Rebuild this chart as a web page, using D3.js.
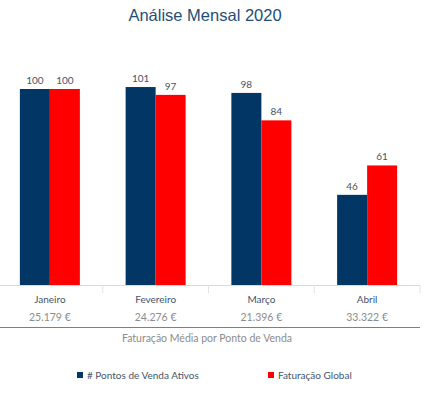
<!DOCTYPE html>
<html>
<head>
<meta charset="utf-8">
<script src="https://cdn.jsdelivr.net/npm/d3@7"></script>
<style>
  body { margin: 0; background: #fff; }
  svg { display: block; }
</style>
</head>
<body>
<svg id="grafico" width="434" height="395"></svg>
<script>
const meses = ["Janeiro", "Fevereiro", "Março", "Abril"];
const pontosVenda = [100, 101, 98, 46];
const faturacaoGlobal = [100, 97, 84, 61];
const faturacaoMedia = ["25.179 €", "24.276 €", "21.396 €", "33.322 €"];
const series = ["# Pontos de Venda Ativos", "Faturação Global"];
const cores = ["#023765", "#ff0000"];

const data = meses.map((m, i) => ({ mes: m, valores: [pontosVenda[i], faturacaoGlobal[i]], media: faturacaoMedia[i] }));

const svg = d3.select("#grafico");
const baseY = 285;
const labelFont = "Lato, 'Open Sans', sans-serif";

const xScale = d3.scaleBand()
    .domain(meses)
    .range([-3, 420])
    .padding(0);

const xSub = d3.scaleBand()
    .domain(series)
    .range([xScale.bandwidth() / 2 - 30, xScale.bandwidth() / 2 + 30]);

const yScale = d3.scaleLinear()
    .domain([0, 100])
    .range([baseY, 89]);

// titulo
svg.append("text")
    .attr("x", 205).attr("y", 21)
    .attr("text-anchor", "middle")
    .attr("font-family", "'Liberation Sans', Arial, sans-serif")
    .attr("font-size", 16.5)
    .attr("fill", "#1f4e79")
    .text("Análise Mensal 2020");

// barras
const grupos = svg.selectAll("g.mes")
    .data(data)
    .enter()
    .append("g")
    .attr("class", "mes")
    .attr("transform", d => `translate(${xScale(d.mes)},0)`);

grupos.selectAll("rect")
    .data(d => d.valores.map((v, i) => ({ serie: series[i], valor: v, cor: cores[i] })))
    .enter()
    .append("rect")
    .attr("x", d => xSub(d.serie))
    .attr("y", d => yScale(d.valor))
    .attr("width", xSub.bandwidth())
    .attr("height", d => baseY - yScale(d.valor))
    .attr("fill", d => d.cor);

grupos.selectAll("text.valor")
    .data(d => d.valores.map((v, i) => ({ serie: series[i], valor: v })))
    .enter()
    .append("text")
    .attr("class", "valor")
    .attr("x", d => xSub(d.serie) + xSub.bandwidth() / 2)
    .attr("y", d => yScale(d.valor) - 5)
    .attr("text-anchor", "middle")
    .attr("font-family", labelFont)
    .attr("font-size", 10)
    .attr("fill", "#44546a")
    .text(d => d.valor);

// eixo x com tabela
svg.append("line")
    .attr("x1", 0).attr("x2", 420)
    .attr("y1", baseY + 0.5).attr("y2", baseY + 0.5)
    .attr("stroke", "#d9d9d9");

svg.selectAll("line.sep")
    .data(meses)
    .enter()
    .append("line")
    .attr("class", "sep")
    .attr("x1", d => xScale(d) + xScale.bandwidth())
    .attr("x2", d => xScale(d) + xScale.bandwidth())
    .attr("y1", baseY).attr("y2", baseY + 8)
    .attr("stroke", "#e3e3e3");

grupos.append("text")
    .attr("x", xScale.bandwidth() / 2)
    .attr("y", 303)
    .attr("text-anchor", "middle")
    .attr("font-family", labelFont)
    .attr("font-size", 10)
    .attr("fill", "#44546a")
    .text(d => d.mes);

grupos.append("text")
    .attr("x", xScale.bandwidth() / 2)
    .attr("y", 321)
    .attr("text-anchor", "middle")
    .attr("font-family", labelFont)
    .attr("font-size", 10.5)
    .attr("fill", "#8c8c8c")
    .text(d => d.media);

svg.append("line")
    .attr("x1", 0).attr("x2", 420)
    .attr("y1", 327.5).attr("y2", 327.5)
    .attr("stroke", "#7f7f7f")
    .attr("stroke-width", 1);

svg.append("text")
    .attr("x", 207).attr("y", 342)
    .attr("text-anchor", "middle")
    .attr("font-family", labelFont)
    .attr("font-size", 10.5)
    .attr("fill", "#8c8c8c")
    .text("Faturação Média por Ponto de Venda");

// legenda
const legendaX = [77, 268];
const legenda = svg.selectAll("g.legenda")
    .data(series)
    .enter()
    .append("g")
    .attr("class", "legenda")
    .attr("transform", (d, i) => `translate(${legendaX[i]},372)`);

legenda.append("rect")
    .attr("width", 6).attr("height", 6)
    .attr("fill", (d, i) => cores[i]);

legenda.append("text")
    .attr("x", 10).attr("y", 6.5)
    .attr("font-family", labelFont)
    .attr("font-size", 10)
    .attr("fill", "#44546a")
    .text(d => d);
</script>
</body>
</html>
